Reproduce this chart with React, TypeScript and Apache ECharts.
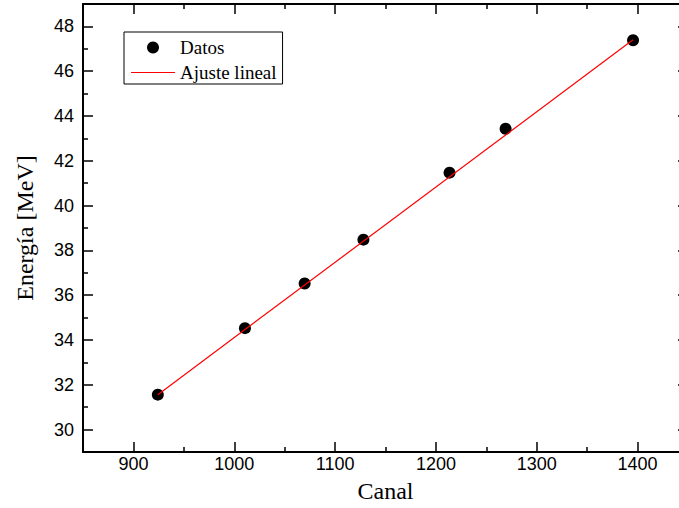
import React, { useEffect, useRef } from "react";
import * as echarts from "echarts";

const canal = [924.2, 1010.6, 1069.8, 1128.1, 1213.5, 1269.1, 1395.5];
const energia = [31.56, 34.53, 36.52, 38.48, 41.47, 43.43, 47.38];
const fitCanal = [924.2, 1395.5];
const fitEnergia = [31.56, 47.4];
const xMajor = [900, 1000, 1100, 1200, 1300, 1400];
const xMinor = [950, 1050, 1150, 1250, 1350];
const yMajor = [30, 32, 34, 36, 38, 40, 42, 44, 46, 48];
const yMinor = [31, 33, 35, 37, 39, 41, 43, 45, 47];

const SANS = "Liberation Sans, Arial, sans-serif";
const SERIF = "Liberation Serif, Times New Roman, serif";

function makeAxis(
  kind: "x" | "y",
  position: string,
  ticks: number[],
  len: number,
  showLabel: boolean,
  showLine: boolean,
  name?: string
) {
  const isX = kind === "x";
  const ax: any = {
    type: "value",
    min: isX ? 850 : 29,
    max: isX ? 1450 : 49,
    position,
    axisLine: { show: showLine, onZero: false, lineStyle: { color: "#000", width: 2 } },
    axisTick: {
      show: true,
      inside: true,
      length: len,
      customValues: ticks,
      lineStyle: { color: "#000", width: 1.5 },
    },
    axisLabel: {
      show: showLabel,
      customValues: ticks,
      formatter: (v: number) => String(v),
      color: "#000",
      fontFamily: SANS,
      fontSize: 18,
      margin: isX ? 3 : 9,
    },
    splitLine: { show: false },
    minorTick: { show: false },
  };
  if (name) {
    ax.name = name;
    ax.nameLocation = "middle";
    ax.nameTextStyle = { fontFamily: SERIF, fontSize: 24, color: "#000" };
    ax.nameGap = isX ? 27 : 46;
    if (!isX) ax.nameRotate = 90;
  }
  return ax;
}

export default function App() {
  const ref = useRef<HTMLDivElement>(null);
  useEffect(() => {
    if (!ref.current) return;
    const chart = echarts.init(ref.current, null, { renderer: "svg" });
    const scatterData = canal.map((c, i) => [c, energia[i]]);
    const fitData = fitCanal.map((c, i) => [c, fitEnergia[i]]);
    chart.setOption({
      animation: false,
      backgroundColor: "#fff",
      grid: { left: 83, right: 2, top: 4, bottom: 55, containLabel: false },
      xAxis: [
        makeAxis("x", "bottom", xMajor, 10, true, true, "Canal"),
        makeAxis("x", "bottom", xMinor, 5, false, false),
        makeAxis("x", "top", xMajor, 10, false, true),
        makeAxis("x", "top", xMinor, 5, false, false),
      ],
      yAxis: [
        makeAxis("y", "left", yMajor, 10, true, true, "Energía [MeV]"),
        makeAxis("y", "left", yMinor, 5, false, false),
        makeAxis("y", "right", yMajor, 10, false, true),
        makeAxis("y", "right", yMinor, 5, false, false),
      ],
      legend: {
        left: 124,
        top: 32,
        orient: "vertical",
        padding: [6, 6, 2, 7],
        itemGap: 6,
        itemWidth: 44,
        itemHeight: 12,
        borderColor: "#000",
        borderWidth: 1,
        backgroundColor: "#fff",
        textStyle: { fontFamily: SERIF, fontSize: 19, color: "#000", lineHeight: 18 },
        data: [
          { name: "Datos", icon: "circle" },
          { name: "Ajuste lineal", icon: "path://M0 0H44V1.2H0Z" },
        ],
      },
      series: [
        {
          name: "Datos",
          type: "scatter",
          xAxisIndex: 0,
          yAxisIndex: 0,
          symbol: "circle",
          symbolSize: 12,
          itemStyle: { color: "#000", opacity: 1 },
          data: scatterData,
          z: 2,
        },
        {
          name: "Ajuste lineal",
          type: "line",
          xAxisIndex: 0,
          yAxisIndex: 0,
          symbol: "none",
          lineStyle: { color: "#ff0000", width: 1.2 },
          itemStyle: { color: "#ff0000" },
          data: fitData,
          z: 3,
        },
      ],
    });
    return () => chart.dispose();
  }, []);
  return (
    <div
      style={{ position: "absolute", left: 0, top: 0, width: 679, height: 508, overflow: "hidden" }}
    >
      <div ref={ref} style={{ width: 690, height: 508 }} />
    </div>
  );
}
